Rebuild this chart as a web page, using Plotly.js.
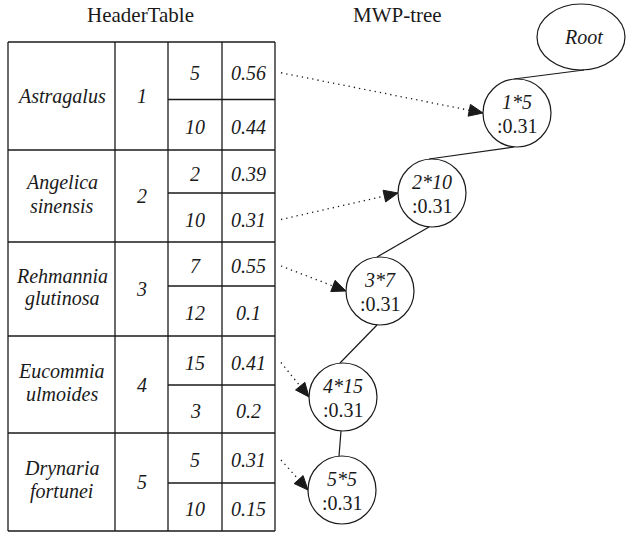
<!DOCTYPE html>
<html>
<head>
<meta charset="utf-8">
<script src="https://cdn.plot.ly/plotly-3.0.1.min.js"></script>
<style>html,body{margin:0;padding:0;background:#fff;}#chart{width:626px;height:533px;}</style>
</head>
<body>
<div id="chart"></div>
<script>
// ---- data ----
const itemNames = ['Astragalus', 'Angelica<br>sinensis', 'Rehmannia<br>glutinosa', 'Eucommia<br>ulmoides', 'Drynaria<br>fortunei'];
const itemIds = ['1', '2', '3', '4', '5'];
const subKeys = [['5', '10'], ['2', '10'], ['7', '12'], ['15', '3'], ['5', '10']];
const subWeights = [['0.56', '0.44'], ['0.39', '0.31'], ['0.55', '0.1'], ['0.41', '0.2'], ['0.31', '0.15']];
const nodeLabels = ['1*5', '2*10', '3*7', '4*15', '5*5'];
const nodeWeights = [':0.31', ':0.31', ':0.31', ':0.31', ':0.31'];
const linkSubRow = [0, 1, 0, 0, 0];
const rootLabel = 'Root';
const tableTitle = 'HeaderTable';
const treeTitle = 'MWP-tree';

// ---- layout geometry ----
const colX = [8, 115, 168, 222, 275];
const groupY = [42, 150, 242, 336, 433, 531];
const midY = [99.5, 193, 286, 385, 483];
const nodeC = [[517, 113], [432, 193], [380, 291], [343, 397], [342, 490]];
const nodeR = 34;
const rootNode = {x: 581, y: 37, rx: 44, ry: 33};

const FONT = 'Liberation Serif';
const FS = 20;
const INK = '#1a1a1a';

const shapes = [];
const annotations = [];

function line(x0, y0, x1, y1, w, dash) {
  shapes.push({type: 'line', xref: 'x', yref: 'y', x0, y0, x1, y1,
    line: {color: INK, width: w || 1.3, dash: dash || 'solid'}});
}
function text(x, y, t, size, italic) {
  annotations.push({xref: 'x', yref: 'y', x, y, text: italic ? '<i>' + t + '</i>' : t,
    showarrow: false, xanchor: 'center', yanchor: 'middle',
    font: {family: FONT, size: size || FS, color: INK}});
}

// table outline and grid
const tTop = groupY[0], tBot = groupY[groupY.length - 1];
colX.forEach(x => line(x, tTop, x, tBot));
groupY.forEach(y => line(colX[0], y, colX[4], y));
midY.forEach(y => line(colX[2], y, colX[4], y));

// table text
itemNames.forEach((name, i) => {
  const cy = (groupY[i] + groupY[i + 1]) / 2;
  const parts = name.split('<br>');
  parts.forEach((p, k) => {
    const off = (k - (parts.length - 1) / 2) * 23;
    text((colX[0] + colX[1]) / 2, cy + off - (parts.length > 1 ? 2 : 0), p, FS, true);
  });
  text((colX[1] + colX[2]) / 2, cy, itemIds[i], FS, true);
  const rows = [[groupY[i], midY[i]], [midY[i], groupY[i + 1]]];
  rows.forEach((r, j) => {
    const ry = (r[0] + r[1]) / 2 + 2;
    text((colX[2] + colX[3]) / 2, ry, subKeys[i][j], FS, true);
    text((colX[3] + colX[4]) / 2, ry, subWeights[i][j], FS, true);
  });
});

text(140, 15, tableTitle, 21, false);
text(397, 15, treeTitle, 21, false);

// root
shapes.push({type: 'circle', xref: 'x', yref: 'y', x0: rootNode.x - rootNode.rx, x1: rootNode.x + rootNode.rx,
  y0: rootNode.y - rootNode.ry, y1: rootNode.y + rootNode.ry, line: {color: INK, width: 1.2}});
text(rootNode.x + 2, rootNode.y, rootLabel, FS, true);

// tree edges
let prev = [rootNode.x + 3, rootNode.y + rootNode.ry];
nodeC.forEach((c, i) => {
  line(prev[0], prev[1], c[0] - 3, c[1] - nodeR, 1.2);
  prev = [c[0] - 3 + (i < 3 ? 0 : 1), c[1] + nodeR];
});

// nodes
nodeC.forEach((c, i) => {
  shapes.push({type: 'circle', xref: 'x', yref: 'y', x0: c[0] - nodeR, x1: c[0] + nodeR,
    y0: c[1] - nodeR, y1: c[1] + nodeR, line: {color: INK, width: 1.2}, fillcolor: 'white'});
  text(c[0], c[1] - 11, nodeLabels[i], FS, true);
  text(c[0], c[1] + 13, nodeWeights[i], FS, false);
});

// dotted links with arrowheads
nodeC.forEach((c, i) => {
  const j = linkSubRow[i];
  const r = j === 0 ? [groupY[i], midY[i]] : [midY[i], groupY[i + 1]];
  const sx = colX[4] + 6, sy = (r[0] + r[1]) / 2 + 2;
  const tx = c[0] - nodeR, ty = c[1];
  const dx = tx - sx, dy = ty - sy, L = Math.hypot(dx, dy);
  const ux = dx / L, uy = dy / L, nx = -uy, ny = ux;
  const AL = 14, AW = 6;
  const bx = tx - AL * ux, by = ty - AL * uy;
  line(sx, sy, bx, by, 1.3, '1.3px,4px');
  shapes.push({type: 'path', xref: 'x', yref: 'y',
    path: `M${tx},${ty} L${bx + AW * nx},${by + AW * ny} L${bx - AW * nx},${by - AW * ny} Z`,
    fillcolor: INK, line: {color: INK, width: 1}});
});

const layout = {
  width: 626, height: 533,
  margin: {l: 0, r: 0, t: 0, b: 0},
  paper_bgcolor: 'white', plot_bgcolor: 'white',
  xaxis: {range: [0, 626], visible: false, fixedrange: true},
  yaxis: {range: [533, 0], visible: false, fixedrange: true},
  shapes, annotations, showlegend: false
};
Plotly.newPlot('chart', [], layout, {staticPlot: true, displayModeBar: false});
</script>
</body>
</html>
